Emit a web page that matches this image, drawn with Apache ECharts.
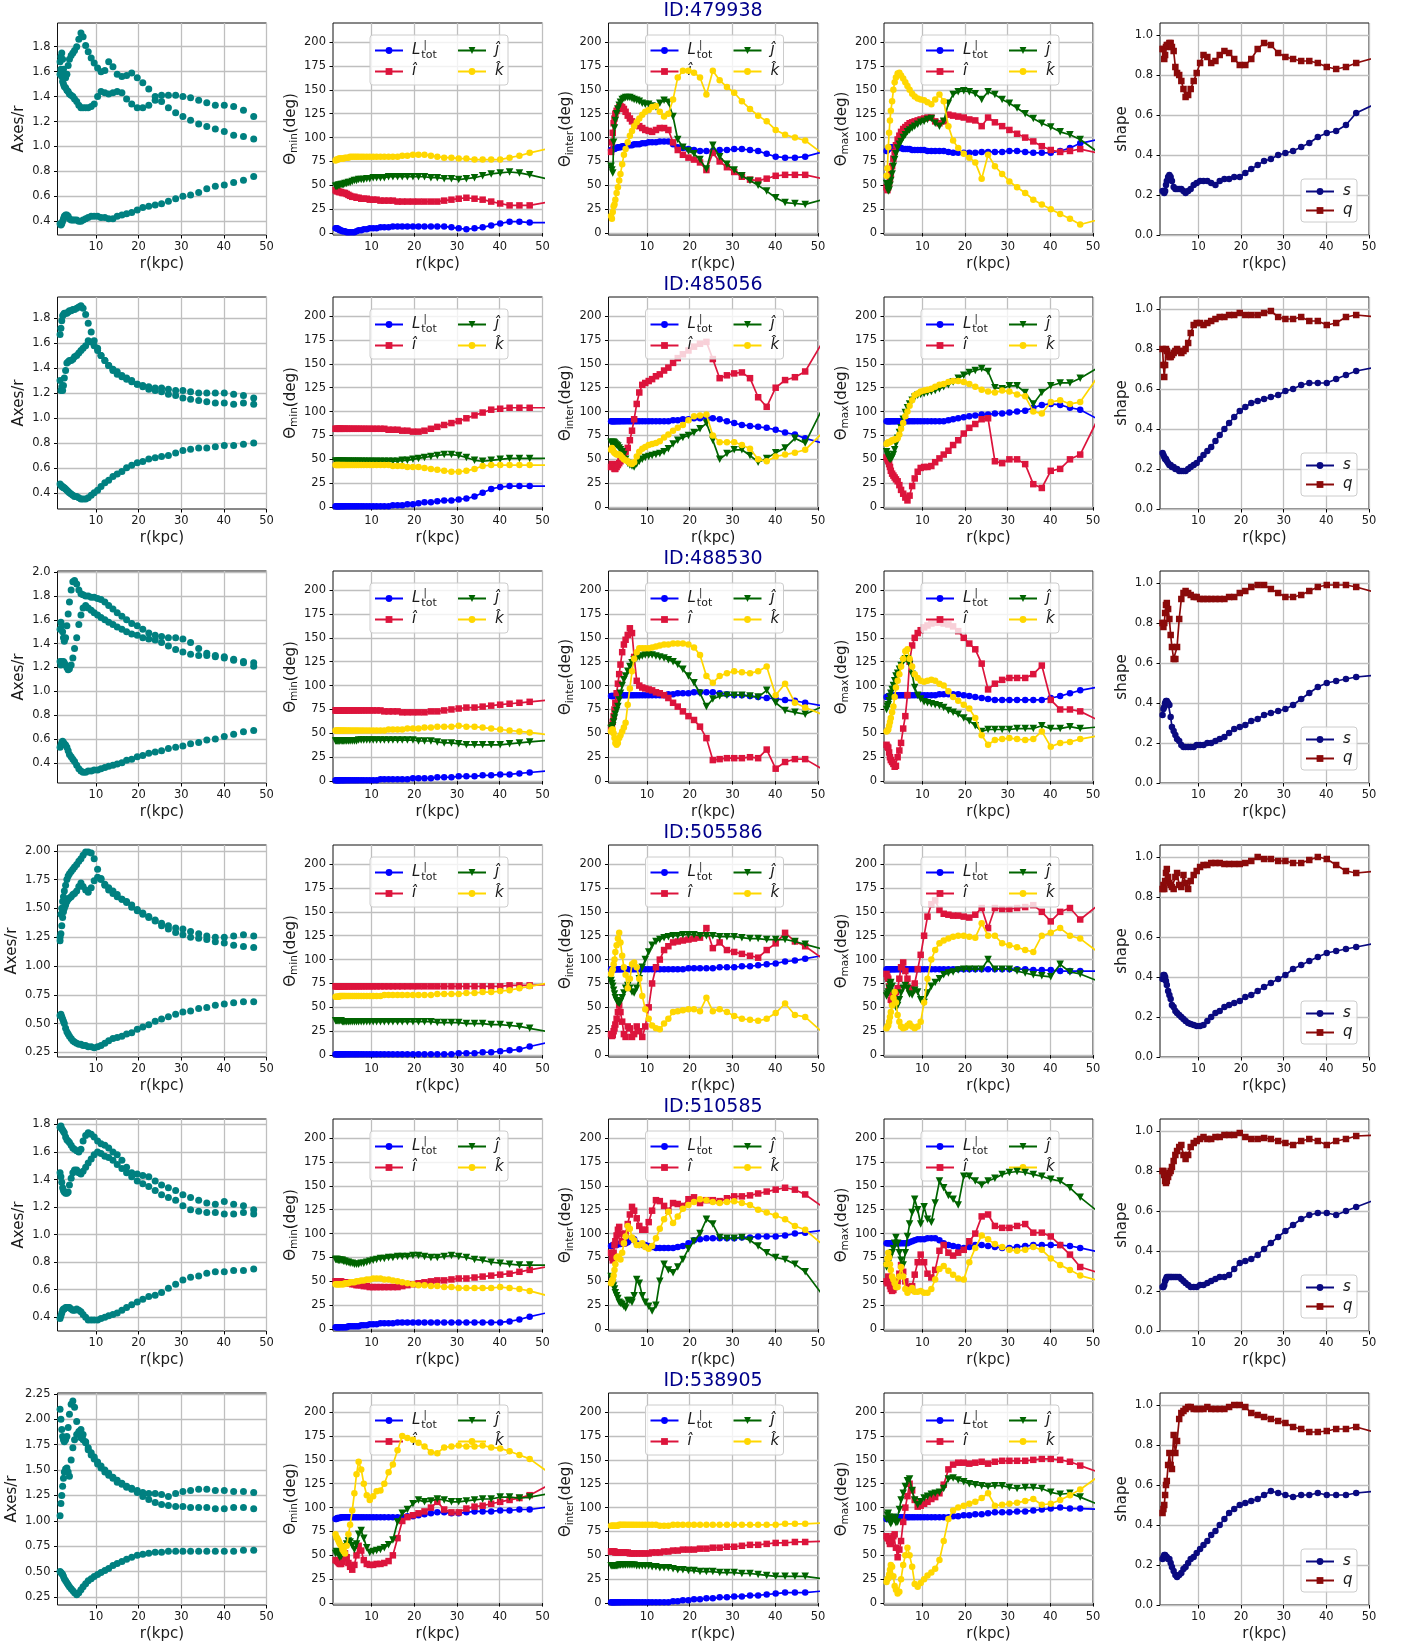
<!DOCTYPE html>
<html><head><meta charset="utf-8">
<script src="https://cdn.jsdelivr.net/npm/echarts@6.0.0/dist/echarts.min.js"></script>
<style>html,body{margin:0;padding:0;background:#fff}#c{width:1407px;height:1646px}</style>
</head><body><div id="c"></div>
<script>
// ---------------- DATA ----------------
const r = [1.6,1.8,2.0,2.2,2.4,2.6,2.9,3.2,3.5,3.8, 4.2,4.6,5.0,5.5,6.0,6.5,7.0,7.6,8.2,8.9, 9.6,10.4,11.2,12.1,13.0,14.0,15.0,16.1,17.2,18.4, 19.7,21.0,22.4,23.9,25.4,27.0,28.7,30.4,32.2,34.1, 36.0,38.0,40.1,42.3,44.6,47.0,52.0];
const ids = ['479938','485056','488530','505586','510585','538905'];
const rTicks = [10,20,30,40,50];
const thetaTicks = [0,25,50,75,100,125,150,175,200];
const shapeTicks = [0.0,0.2,0.4,0.6,0.8,1.0];
const axesTicks = [
  [0.4,0.6,0.8,1.0,1.2,1.4,1.6,1.8],
  [0.4,0.6,0.8,1.0,1.2,1.4,1.6,1.8],
  [0.4,0.6,0.8,1.0,1.2,1.4,1.6,1.8,2.0],
  [0.25,0.5,0.75,1.0,1.25,1.5,1.75,2.0],
  [0.4,0.6,0.8,1.0,1.2,1.4,1.6,1.8],
  [0.25,0.5,0.75,1.0,1.25,1.5,1.75,2.0,2.25]
];
const axesDecimals = [1,1,1,2,1,2];
const axesMin = [0.29,0.27,0.23,0.21,0.30,0.17];
const axesMax = [1.99,1.97,2.01,2.05,1.84,2.26];

// Row 1 : 479938
const ax1A = [1.68,1.72,1.75,1.70,1.62,1.58,1.55,1.58,1.65,1.70, 1.73,1.75,1.77,1.80,1.86,1.91,1.88,1.81,1.76,1.71, 1.67,1.63,1.60,1.61,1.68,1.64,1.58,1.56,1.57,1.59, 1.55,1.51,1.46,1.40,1.36,1.31,1.27,1.24,1.21,1.18, 1.16,1.14,1.12,1.09,1.08,1.06,null];
const ax1B = [1.58,1.62,1.56,1.52,1.50,1.48,1.47,1.45,1.44,1.42, 1.41,1.40,1.38,1.36,1.33,1.31,1.31,1.31,1.31,1.32, 1.34,1.40,1.44,1.43,1.42,1.43,1.44,1.43,1.38,1.34, 1.31,1.31,1.33,1.37,1.41,1.41,1.41,1.40,1.39,1.37, 1.35,1.33,1.33,1.32,1.29,1.24,null];
const ax1C = [0.38,0.37,0.38,0.40,0.42,0.44,0.45,0.45,0.44,0.42, 0.41,0.41,0.41,0.41,0.40,0.40,0.41,0.42,0.43,0.44, 0.44,0.44,0.43,0.43,0.42,0.42,0.44,0.45,0.46,0.47, 0.49,0.51,0.52,0.53,0.54,0.56,0.58,0.60,0.61,0.63, 0.66,0.68,0.69,0.71,0.73,0.76,null];
const min1L = [5,5,5,4,4,3,3,2,2,2, 1,1,1,1,1,2,3,3,4,4, 5,5,5,6,6,6,7,7,7,7, 7,7,7,7,7,7,6,5,4,5, 6,8,10,12,12,11,11];
const min1I = [45,44,44,44,43,43,43,42,42,42, 41,40,39,38,38,37,37,36,36,36, 35,35,35,34,34,34,34,33,33,33, 33,33,33,33,33,34,35,36,37,36, 35,33,31,29,29,29,33];
const min1J = [49,49,49,50,50,50,51,51,51,52, 52,53,53,54,55,55,56,56,56,57, 57,58,58,58,58,59,59,59,59,59, 59,59,59,58,58,57,57,56,57,58, 60,62,63,64,63,61,56];
const min1K = [76,77,77,77,78,78,78,78,78,79, 79,79,80,80,80,80,80,80,80,80, 80,80,80,80,80,80,80,80,81,81, 82,82,82,81,80,79,79,78,78,77, 77,77,77,79,81,84,89];
const int1L = [87,87,88,88,88,89,89,90,90,90, 91,91,91,92,92,92,93,93,93,94, 94,95,95,95,96,96,96,93,90,89, 88,87,86,86,86,87,87,88,88,87, 86,83,80,79,79,80,86];
const int1I = [85,95,105,115,120,125,128,130,132,133, 132,130,127,123,120,117,115,113,112,110, 108,107,106,108,110,110,108,95,87,82, 79,77,74,66,84,75,69,64,59,56, 55,57,60,61,61,61,56];
const int1J = [70,66,63,95,110,118,125,130,134,137, 140,141,142,142,142,141,140,139,138,136, 135,135,133,132,136,139,137,122,98,90, 86,83,77,67,92,80,72,66,60,55, 50,44,37,32,31,30,36];
const int1K = [18,15,22,28,30,35,42,48,55,62, 72,82,88,95,102,107,112,116,120,124, 127,129,132,133,127,122,125,140,163,170, 170,168,163,145,170,160,153,147,138,130, 123,117,108,103,100,97,80];
const max1L = [86,87,88,89,89,90,90,90,90,90, 90,89,89,88,88,88,88,87,87,87, 87,87,86,86,86,86,86,85,84,84, 84,84,84,85,85,85,85,86,86,85, 84,84,84,86,89,94,99];
const max1I = [48,45,48,52,57,62,70,78,85,92, 98,102,106,109,111,113,115,116,117,118, 119,120,121,121,117,115,117,124,123,122, 121,119,118,112,121,116,112,108,104,100, 96,91,87,85,86,88,83];
const max1J = [52,48,44,45,50,55,62,70,77,83, 89,93,96,100,103,106,108,110,112,114, 116,117,119,120,115,112,117,136,145,148, 149,148,146,140,148,145,140,136,131,125, 120,115,111,106,103,98,82];
const max1K = [60,68,90,105,118,128,138,150,158,163, 167,168,165,162,158,154,150,146,143,141, 140,139,137,135,140,145,138,112,97,89, 83,79,74,57,82,70,62,54,48,42, 35,30,25,20,15,9,15];
const s1 = [0.22,0.22,0.21,0.22,0.25,0.27,0.29,0.30,0.29,0.27, 0.24,0.23,0.23,0.23,0.23,0.22,0.21,0.22,0.23,0.25, 0.26,0.27,0.27,0.27,0.26,0.25,0.27,0.28,0.28,0.29, 0.29,0.31,0.33,0.35,0.37,0.38,0.40,0.41,0.42,0.44, 0.46,0.49,0.51,0.52,0.55,0.61,0.66];
const q1 = [0.93,0.93,0.88,0.90,0.94,0.95,0.95,0.96,0.96,0.94, 0.92,0.84,0.81,0.80,0.77,0.73,0.69,0.70,0.73,0.77, 0.81,0.86,0.90,0.89,0.86,0.87,0.90,0.92,0.91,0.88, 0.85,0.85,0.88,0.93,0.96,0.95,0.91,0.89,0.88,0.87, 0.87,0.86,0.84,0.83,0.84,0.86,0.89];

// Row 2 : 485056
const ax2A = [1.67,1.72,1.78,1.82,1.83,1.84,1.84,1.84,1.85,1.86, 1.86,1.87,1.87,1.88,1.89,1.90,1.88,1.83,1.76,1.69, 1.62,1.56,1.50,1.46,1.42,1.38,1.35,1.33,1.31,1.29, 1.27,1.26,1.25,1.24,1.24,1.23,1.22,1.22,1.21,1.20, 1.20,1.20,1.20,1.19,1.18,1.16,null];
const ax2B = [1.30,1.22,1.25,1.22,1.26,1.32,1.38,1.44,1.45,1.46, 1.46,1.47,1.49,1.50,1.52,1.54,1.56,1.58,1.62,1.61, 1.58,1.54,1.50,1.46,1.42,1.39,1.37,1.34,1.32,1.30, 1.27,1.25,1.23,1.22,1.21,1.19,1.18,1.16,1.15,1.14, 1.13,1.12,1.12,1.11,1.12,1.11,null];
const ax2C = [0.47,0.46,0.45,0.45,0.44,0.44,0.43,0.42,0.41,0.40, 0.39,0.38,0.37,0.37,0.36,0.35,0.35,0.35,0.36,0.38, 0.40,0.42,0.45,0.48,0.50,0.53,0.55,0.57,0.60,0.62, 0.64,0.65,0.67,0.68,0.69,0.70,0.72,0.74,0.75,0.76, 0.76,0.77,0.78,0.78,0.79,0.80,null];
const min2L = [1,1,1,1,1,1,1,1,1,1, 1,1,1,1,1,1,1,1,1,1, 1,1,1,1,1,1,2,2,2,3, 3,4,5,5,6,7,7,8,9,11, 15,19,21,22,22,22,22];
const min2I = [82,82,82,82,82,82,82,82,82,82, 82,82,82,82,82,82,82,82,82,82, 82,82,82,82,82,81,81,81,80,80, 79,79,80,82,84,86,88,90,93,96, 99,102,103,104,104,104,104];
const min2J = [48,48,48,48,48,48,48,48,48,48, 48,48,48,48,48,48,48,48,48,48, 48,48,48,48,48,48,48,48,49,49, 50,51,52,53,54,55,55,54,52,49, 48,49,50,51,51,51,51];
const min2K = [44,44,44,44,44,44,44,44,44,44, 44,44,44,44,44,44,44,44,44,44, 44,44,44,44,44,44,43,43,43,42, 42,42,41,40,39,38,37,37,38,40, 43,44,44,44,44,44,44];
const int2L = [90,90,90,90,90,90,90,90,90,90, 90,90,90,90,90,90,90,90,90,90, 90,90,90,90,90,90,90,91,91,92, 92,93,93,94,93,92,90,88,86,85, 84,83,81,78,76,72,66];
const int2I = [42,45,45,42,40,40,42,44,46,48, 51,55,58,62,70,80,92,108,120,128, 130,132,134,137,139,143,146,151,156,160, 164,168,171,173,155,135,138,140,141,135, 115,105,125,133,136,142,180];
const int2J = [68,66,68,68,67,66,65,64,62,60, 58,55,50,46,44,43,42,45,48,50, 52,53,54,55,56,58,61,66,70,73, 75,78,82,88,70,50,56,60,60,54, 47,51,57,62,72,67,112];
const int2K = [60,62,60,58,57,56,55,55,55,54, 52,50,49,48,46,45,47,53,58,61, 63,65,66,67,69,73,76,80,83,86, 91,95,96,97,75,68,68,68,65,61, 50,48,53,55,57,60,82];
const max2L = [90,90,90,90,90,90,90,90,90,90, 90,90,90,90,90,90,90,90,90,90, 90,90,90,90,90,90,90,91,92,93, 94,95,96,97,97,98,98,99,100,101, 104,107,108,107,104,102,90];
const max2I = [52,50,48,45,42,38,35,33,31,29, 27,23,18,14,10,7,12,22,30,37, 41,42,42,43,47,51,55,59,65,70, 77,83,87,92,93,48,46,50,50,45, 24,20,38,40,50,55,100];
const max2J = [58,55,53,51,50,50,52,55,60,66, 72,78,83,92,99,104,108,112,115,117, 118,119,120,121,122,124,126,128,131,135, 138,141,143,145,142,125,124,127,127,120, 108,120,127,130,130,135,148];
const max2K = [66,67,68,68,68,69,70,70,71,71, 72,76,82,88,95,100,106,112,117,119, 121,122,123,124,126,128,129,131,132,132, 131,129,126,123,121,120,122,121,118,116, 100,98,110,112,108,110,142];
const s2 = [0.28,0.27,0.26,0.25,0.25,0.24,0.23,0.22,0.22,0.21, 0.21,0.20,0.20,0.19,0.19,0.19,0.19,0.20,0.21,0.22, 0.23,0.25,0.27,0.29,0.31,0.34,0.37,0.40,0.43,0.46, 0.49,0.51,0.53,0.54,0.55,0.56,0.57,0.59,0.60,0.62, 0.63,0.63,0.63,0.65,0.67,0.69,0.71];
const q2 = [0.80,0.72,0.66,0.72,0.80,0.79,0.77,0.76,0.76,0.77, 0.78,0.79,0.80,0.79,0.78,0.79,0.80,0.83,0.88,0.92, 0.93,0.93,0.92,0.93,0.94,0.95,0.96,0.96,0.97,0.97, 0.98,0.97,0.97,0.97,0.98,0.99,0.96,0.95,0.95,0.96, 0.94,0.94,0.92,0.93,0.96,0.97,0.96];

// Row 3 : 488530
const ax3A = [1.52,1.58,1.55,1.50,1.45,1.42,1.45,1.55,1.65,1.75, 1.85,1.92,1.93,1.90,1.85,1.82,1.81,1.80,1.80,1.79, 1.79,1.78,1.77,1.75,1.72,1.69,1.66,1.63,1.60,1.57, 1.55,1.52,1.49,1.47,1.46,1.45,1.45,1.44,1.41,1.36, 1.32,1.30,1.29,1.27,1.25,1.24,null];
const ax3B = [1.25,1.22,1.25,1.24,1.25,1.24,1.22,1.20,1.18,1.19, 1.22,1.28,1.36,1.45,1.56,1.64,1.70,1.72,1.70,1.68, 1.66,1.64,1.62,1.60,1.58,1.56,1.54,1.52,1.50,1.48, 1.47,1.45,1.44,1.43,1.41,1.38,1.35,1.33,1.31,1.30, 1.30,1.29,1.28,1.26,1.24,1.21,null];
const ax3C = [0.53,0.55,0.57,0.58,0.57,0.56,0.55,0.53,0.50,0.47, 0.45,0.43,0.41,0.38,0.35,0.33,0.32,0.32,0.33,0.33, 0.34,0.34,0.35,0.36,0.37,0.38,0.39,0.40,0.42,0.43, 0.45,0.46,0.48,0.49,0.50,0.52,0.53,0.54,0.56,0.57, 0.59,0.60,0.62,0.64,0.66,0.67,null];
const min3L = [1,1,1,1,1,1,1,1,1,1, 1,1,1,1,1,1,1,1,1,1, 1,1,1,2,2,2,2,2,2,2, 3,3,3,3,4,4,4,5,5,5, 6,6,7,7,8,9,11];
const min3I = [74,74,74,74,74,74,74,74,74,74, 74,74,74,74,74,74,74,74,74,74, 74,74,74,74,73,73,73,73,72,72, 72,72,72,73,73,74,75,76,77,77, 78,79,80,81,82,83,85];
const min3J = [42,42,42,42,42,42,42,42,42,42, 42,42,42,42,42,42,43,43,43,43, 43,43,43,43,43,43,43,43,43,43, 43,42,42,42,41,40,40,39,38,38, 38,38,38,39,40,41,43];
const min3K = [53,53,53,53,53,53,53,53,53,53, 53,53,53,53,53,53,53,53,53,53, 53,53,53,53,53,54,54,54,54,55, 55,55,56,56,57,57,57,58,57,57, 56,55,54,53,52,51,48];
const int3L = [89,89,89,89,89,89,89,89,90,90, 90,90,90,90,90,90,90,90,90,90, 90,90,90,90,90,90,91,91,92,92, 92,93,93,93,93,92,91,90,90,89, 88,87,86,85,84,82,78];
const int3I = [55,58,62,68,75,82,92,102,112,122, 135,143,148,153,160,155,130,105,100,98, 97,96,95,93,92,90,87,82,78,73, 68,64,57,45,22,23,24,24,24,25, 24,33,13,20,23,23,10];
const int3J = [55,56,58,62,66,70,74,78,85,92, 100,106,110,115,120,124,127,129,130,131, 132,132,132,131,130,129,127,125,122,117, 110,103,92,78,86,89,90,90,90,89, 88,95,82,74,72,70,80];
const int3K = [52,54,54,50,45,40,38,40,45,48, 52,56,61,80,97,115,128,135,139,139, 139,139,140,141,142,143,143,144,144,144, 143,140,132,110,103,110,113,115,114,113, 115,120,90,102,82,77,68];
const max3L = [88,88,89,89,89,89,89,89,90,90, 90,90,90,90,90,90,90,90,90,90, 90,90,90,90,90,91,91,91,91,91, 90,89,88,87,86,85,85,85,85,85, 85,85,87,89,92,95,99];
const max3I = [38,36,35,30,25,22,20,18,15,16, 25,32,40,55,68,90,125,142,150,155, 158,161,163,165,166,166,165,164,162,157, 150,144,138,123,96,102,106,108,108,108, 112,121,85,75,75,73,62];
const max3J = [75,78,80,84,88,92,96,100,105,110, 113,117,121,125,128,128,122,112,98,90, 86,83,82,81,80,79,77,74,72,70, 66,63,58,52,54,54,54,54,55,55, 55,58,55,55,57,55,57];
const max3K = [52,53,54,58,62,66,72,78,88,98, 105,112,120,128,136,138,128,120,112,108, 105,104,105,106,105,102,100,94,88,84, 80,76,66,48,38,43,44,45,44,43, 44,52,36,40,41,44,48];
const s3 = [0.34,0.37,0.38,0.40,0.41,0.41,0.40,0.39,0.33,0.28, 0.26,0.24,0.22,0.21,0.19,0.18,0.18,0.18,0.18,0.18, 0.19,0.19,0.19,0.20,0.20,0.21,0.22,0.23,0.25,0.27, 0.28,0.29,0.31,0.32,0.34,0.35,0.36,0.37,0.39,0.42, 0.45,0.48,0.50,0.51,0.52,0.53,0.54];
const q3 = [0.80,0.78,0.80,0.85,0.89,0.90,0.87,0.82,0.74,0.68, 0.62,0.62,0.68,0.82,0.92,0.95,0.96,0.95,0.94,0.93, 0.93,0.92,0.92,0.92,0.92,0.92,0.92,0.92,0.93,0.93, 0.95,0.96,0.98,0.99,0.99,0.97,0.95,0.93,0.93,0.94, 0.96,0.98,0.99,0.99,0.99,0.98,0.95];

// Row 4 : 505586
const ax4A = [1.25,1.45,1.50,1.56,1.60,1.65,1.70,1.75,1.78,1.80, 1.82,1.84,1.86,1.88,1.91,1.93,1.96,1.99,1.99,1.98, 1.93,1.84,1.76,1.70,1.66,1.63,1.60,1.58,1.55,1.51, 1.48,1.45,1.42,1.40,1.37,1.35,1.33,1.32,1.30,1.28, 1.26,1.25,1.25,1.26,1.27,1.26,null];
const ax4B = [1.22,1.28,1.35,1.42,1.47,1.50,1.53,1.56,1.58,1.59, 1.60,1.62,1.63,1.65,1.69,1.72,1.69,1.66,1.64,1.68, 1.74,1.77,1.75,1.71,1.68,1.65,1.62,1.58,1.56,1.53, 1.49,1.46,1.43,1.39,1.35,1.32,1.29,1.27,1.25,1.24, 1.23,1.21,1.20,1.18,1.17,1.16,null];
const ax4C = [0.57,0.58,0.56,0.54,0.52,0.50,0.46,0.43,0.41,0.39, 0.37,0.35,0.34,0.33,0.32,0.32,0.31,0.31,0.30,0.30, 0.29,0.30,0.31,0.33,0.35,0.37,0.38,0.39,0.41,0.42, 0.45,0.47,0.49,0.52,0.54,0.56,0.58,0.60,0.61,0.63, 0.64,0.66,0.67,0.68,0.69,0.69,null];
const min4L = [1,1,1,1,1,1,1,1,1,1, 1,1,1,1,1,1,1,1,1,1, 1,1,1,1,1,1,1,1,1,1, 1,1,1,1,1,1,1,2,2,2, 3,3,4,5,6,9,14];
const min4I = [72,72,72,72,72,72,72,72,72,72, 72,72,72,72,72,72,72,72,72,72, 72,72,72,72,72,72,72,72,72,72, 72,72,72,72,72,72,72,72,72,72, 72,72,72,73,73,73,74];
const min4J = [36,36,36,36,36,36,36,35,35,35, 35,35,35,35,35,35,35,35,35,35, 35,35,35,35,35,35,35,35,35,35, 35,35,35,35,34,34,34,34,33,33, 33,32,32,31,30,28,24];
const min4K = [61,61,61,61,61,62,62,62,62,62, 62,62,62,62,62,62,62,62,62,62, 62,62,62,62,63,63,63,63,63,63, 63,63,63,63,64,64,64,64,65,65, 66,66,67,68,70,72,76];
const int4L = [90,90,90,90,90,90,90,90,90,90, 90,90,90,90,90,90,90,90,90,90, 90,90,90,90,90,90,90,90,90,90, 91,91,91,91,91,92,92,92,93,93, 94,95,96,98,99,101,105];
const int4I = [22,20,21,25,28,32,38,45,52,45, 35,22,19,30,28,19,22,30,25,19, 30,50,75,92,100,110,114,118,119,120, 121,122,123,133,112,118,110,108,106,104, 102,110,117,128,119,114,98];
const int4J = [78,75,72,68,64,60,57,55,54,56, 60,65,70,73,70,66,65,70,80,92, 100,108,115,119,121,123,124,125,125,126, 126,126,125,125,125,124,124,124,123,122, 122,121,121,121,119,116,110];
const int4K = [85,88,90,95,100,108,115,122,128,118, 104,92,84,70,80,95,97,92,80,62, 48,38,31,28,27,33,38,45,46,47, 48,48,46,60,46,48,45,41,38,37, 36,38,44,54,42,40,20];
const max4L = [90,90,90,90,90,90,90,90,90,90, 90,90,90,90,90,90,90,90,90,90, 90,90,90,90,90,90,90,90,90,90, 90,90,90,90,90,90,90,90,90,90, 89,89,89,88,88,88,88];
const max4I = [85,82,80,72,65,58,55,56,60,66, 70,80,92,97,88,80,70,68,75,90, 105,125,145,158,162,152,148,147,146,146, 145,144,147,154,133,154,153,153,154,155, 157,150,140,150,154,142,160];
const max4J = [62,64,66,70,74,76,72,65,55,50, 52,58,65,70,73,70,64,63,68,66, 58,55,65,72,76,80,84,86,87,89, 90,90,90,90,100,90,90,90,88,86, 84,83,82,95,87,85,76];
const max4K = [28,30,31,35,40,45,52,60,66,55, 42,35,30,28,29,31,33,30,28,30, 35,55,80,100,110,117,120,122,124,125, 125,124,123,138,125,125,117,115,113,110, 108,125,128,133,125,122,105];
const s4 = [0.39,0.41,0.41,0.40,0.38,0.36,0.33,0.31,0.29,0.26, 0.25,0.23,0.22,0.21,0.20,0.19,0.18,0.17,0.165,0.16, 0.155,0.155,0.16,0.18,0.20,0.22,0.23,0.25,0.26,0.27, 0.28,0.30,0.31,0.33,0.35,0.37,0.39,0.41,0.44,0.46, 0.48,0.50,0.52,0.53,0.54,0.55,0.57];
const q4 = [0.84,0.86,0.84,0.88,0.92,0.94,0.90,0.87,0.86,0.85, 0.84,0.90,0.92,0.86,0.85,0.91,0.87,0.84,0.88,0.91, 0.93,0.95,0.96,0.96,0.97,0.97,0.97,0.965,0.965,0.965, 0.965,0.97,0.98,1.00,0.99,0.99,0.98,0.98,0.97,0.97, 0.985,1.00,0.99,0.96,0.93,0.92,0.93];

// Row 5 : 510585
const ax5A = [1.78,1.79,1.77,1.76,1.75,1.74,1.71,1.69,1.68,1.67, 1.65,1.63,1.62,1.61,1.60,1.62,1.68,1.72,1.74,1.73, 1.71,1.68,1.66,1.65,1.63,1.60,1.58,1.54,1.49,1.45, 1.44,1.43,1.42,1.39,1.36,1.34,1.32,1.29,1.27,1.25, 1.23,1.22,1.24,1.22,1.21,1.18,null];
const ax5B = [1.45,1.42,1.38,1.34,1.32,1.31,1.30,1.30,1.31,1.36, 1.41,1.45,1.47,1.47,1.45,1.44,1.46,1.49,1.52,1.55, 1.58,1.60,1.59,1.57,1.56,1.54,1.51,1.48,1.45,1.42, 1.39,1.37,1.35,1.32,1.29,1.27,1.25,1.21,1.18,1.17, 1.16,1.16,1.15,1.15,1.16,1.15,null];
const ax5C = [0.39,0.41,0.43,0.45,0.46,0.46,0.47,0.47,0.47,0.47, 0.46,0.45,0.45,0.46,0.45,0.44,0.42,0.40,0.38,0.38, 0.38,0.38,0.39,0.40,0.41,0.42,0.43,0.45,0.47,0.49, 0.51,0.53,0.55,0.56,0.58,0.61,0.64,0.67,0.69,0.70, 0.72,0.73,0.73,0.74,0.74,0.75,null];
const min5L = [2,2,2,2,2,2,2,2,2,2, 2,3,3,3,3,3,3,4,4,4, 5,5,5,6,6,6,6,7,7,7, 7,7,7,7,7,7,7,7,7,7, 7,7,7,8,10,13,18];
const min5I = [50,50,50,50,50,50,50,49,49,49, 49,48,48,47,47,46,46,46,45,45, 44,44,44,44,44,44,44,44,45,46, 47,48,49,50,51,51,52,53,53,54, 55,56,57,58,60,62,66];
const min5J = [73,73,73,72,72,72,72,72,71,71, 70,70,69,69,68,68,68,69,69,70, 71,72,73,74,74,75,75,76,76,76, 77,77,76,75,75,76,77,76,75,73, 72,70,69,68,67,67,67];
const min5K = [47,47,47,47,47,47,47,47,47,48, 48,48,49,49,49,50,50,51,51,52, 52,53,53,53,52,52,51,50,49,48, 47,46,46,45,45,44,44,43,43,43, 43,43,44,43,42,40,34];
const int5L = [87,87,88,88,88,88,88,89,89,89, 90,90,90,91,93,95,94,90,88,88, 88,87,86,85,85,85,85,85,86,87, 90,93,94,95,95,95,95,95,96,96, 97,97,97,98,100,101,104];
const int5I = [80,75,72,80,88,92,98,104,107,100, 92,90,100,110,120,128,124,116,108,104, 104,112,124,135,134,129,124,132,131,129, 136,138,132,135,135,134,137,139,139,140, 142,144,146,148,146,141,125];
const int5J = [55,52,48,45,42,38,35,32,28,27, 26,24,22,30,30,28,35,52,48,35, 28,24,19,25,50,68,62,59,65,73, 84,92,100,115,110,96,95,95,96,93, 87,80,75,73,68,60,30];
const int5K = [48,50,52,56,62,68,75,76,74,73, 80,90,97,108,105,96,93,88,88,90, 86,84,87,95,105,115,123,111,118,126, 130,133,136,135,133,132,133,134,132,130, 125,122,119,115,108,104,85];
const max5L = [90,90,90,90,90,90,90,90,90,90, 90,90,90,90,90,90,91,92,93,94, 94,94,95,95,95,93,90,88,87,86, 85,86,88,88,87,86,85,85,86,87, 88,88,88,88,87,85,80];
const max5I = [50,48,55,50,45,42,40,41,44,47, 50,58,67,60,50,44,41,45,57,70, 78,70,58,54,62,82,88,80,77,80, 83,92,100,118,120,108,106,106,108,110, 101,101,97,88,78,65,58];
const max5J = [65,67,69,72,75,78,80,84,90,96, 90,80,72,67,80,97,110,122,136,125, 110,128,115,112,132,155,148,140,136,130, 160,160,155,151,155,158,162,164,165,164, 162,160,157,155,148,138,120];
const max5K = [68,74,80,75,68,62,55,52,48,44, 44,55,65,55,42,38,41,43,39,39, 40,38,38,42,52,63,66,61,57,53, 52,70,85,98,94,89,86,83,82,83, 86,83,74,67,62,56,50];
const s5 = [0.22,0.22,0.23,0.25,0.26,0.27,0.27,0.27,0.27,0.27, 0.27,0.27,0.27,0.27,0.26,0.25,0.24,0.23,0.22,0.22, 0.22,0.23,0.23,0.24,0.25,0.26,0.27,0.27,0.28,0.31, 0.34,0.35,0.36,0.38,0.41,0.44,0.47,0.50,0.53,0.56, 0.58,0.59,0.59,0.58,0.60,0.62,0.66];
const q5 = [0.80,0.80,0.78,0.75,0.74,0.75,0.77,0.79,0.80,0.82, 0.85,0.88,0.90,0.92,0.93,0.88,0.86,0.88,0.92,0.94, 0.95,0.96,0.97,0.96,0.96,0.97,0.97,0.98,0.98,0.98, 0.99,0.97,0.96,0.96,0.965,0.96,0.95,0.94,0.93,0.95, 0.96,0.95,0.93,0.95,0.96,0.975,0.98];

// Row 6 : 538905
const ax6A = [2.10,2.00,1.90,1.83,1.80,1.78,1.80,1.83,1.92,2.05, 2.15,2.18,2.12,1.98,1.86,1.82,1.80,1.77,1.72,1.67, 1.63,1.58,1.54,1.50,1.47,1.43,1.40,1.37,1.34,1.32, 1.30,1.28,1.27,1.27,1.26,1.24,1.27,1.29,1.30,1.31, 1.31,1.30,1.30,1.29,1.29,1.28,null];
const ax6B = [1.05,1.17,1.25,1.34,1.42,1.48,1.51,1.52,1.48,1.44, 1.60,1.72,1.80,1.85,1.88,1.90,1.85,1.78,1.70,1.65, 1.61,1.56,1.52,1.48,1.45,1.42,1.38,1.36,1.33,1.31, 1.28,1.24,1.21,1.18,1.16,1.15,1.14,1.14,1.13,1.13, 1.13,1.12,1.12,1.13,1.13,1.12,null];
const ax6C = [0.50,0.49,0.48,0.47,0.45,0.43,0.41,0.39,0.37,0.35, 0.33,0.31,0.29,0.27,0.29,0.32,0.35,0.38,0.41,0.43, 0.45,0.47,0.49,0.51,0.53,0.56,0.58,0.60,0.62,0.64, 0.66,0.67,0.68,0.69,0.69,0.70,0.70,0.70,0.70,0.70, 0.70,0.70,0.70,0.70,0.71,0.71,null];
const min6L = [88,88,89,89,89,89,90,90,90,90, 90,90,90,90,90,90,90,90,90,90, 90,90,90,90,90,90,90,90,90,91, 91,92,93,94,95,95,94,94,95,96, 96,96,97,97,98,98,101];
const min6I = [45,45,44,43,42,41,41,43,47,52, 48,42,38,35,40,50,60,55,45,41, 40,40,41,41,42,44,50,68,86,90, 92,94,96,100,106,98,95,95,99,101, 102,104,106,108,110,113,125];
const min6J = [52,54,53,52,50,48,49,52,56,59, 62,65,64,60,56,62,72,76,68,58, 53,54,55,56,58,61,66,85,94,98, 104,108,106,107,109,108,106,106,107,108, 109,109,111,111,110,111,115];
const min6K = [72,69,68,66,64,62,60,56,54,52, 60,72,82,97,115,135,148,140,125,113, 108,112,117,118,125,137,145,160,175,173, 171,168,164,158,157,163,164,165,164,164, 165,163,162,159,155,151,135];
const int6L = [1,1,1,1,1,1,1,1,1,1, 1,1,1,1,1,1,1,1,1,1, 1,1,1,1,1,1,1,2,2,3, 3,4,4,5,5,6,6,7,7,8, 8,9,10,11,11,11,13];
const int6I = [54,54,54,54,54,53,53,53,53,53, 53,53,53,53,52,52,52,52,52,52, 52,52,53,53,53,54,54,55,55,56, 56,56,57,57,58,58,59,59,60,61, 61,62,63,63,64,64,65];
const int6J = [39,39,39,39,39,39,39,39,40,40, 40,40,40,40,40,40,40,39,39,39, 39,39,38,38,37,37,37,36,35,35, 34,34,33,33,33,32,32,32,31,31, 30,29,28,28,28,28,25];
const int6K = [81,81,81,81,81,81,81,81,82,82, 82,82,82,82,82,82,82,82,82,82, 82,82,82,82,81,81,81,82,82,82, 82,82,82,82,82,82,82,82,82,82, 82,82,82,83,83,83,84];
const max6L = [88,88,88,89,89,89,89,89,89,90, 90,90,90,90,90,90,90,90,90,90, 90,90,90,90,90,90,90,90,91,91, 92,92,93,93,94,95,95,95,96,96, 97,98,99,100,99,99,98];
const max6I = [70,68,68,65,62,62,66,70,72,58, 48,56,65,85,100,112,125,118,108,101, 102,104,106,109,111,115,124,140,145,147, 147,146,147,148,146,148,149,149,149,149, 150,151,151,150,148,144,136];
const max6J = [88,92,94,90,85,83,86,90,88,84, 85,98,108,115,122,128,130,118,108,103, 106,110,112,114,115,116,120,130,131,129, 127,125,124,123,122,123,123,121,120,121, 121,120,116,114,115,111,102];
const max6K = [22,25,26,30,35,40,38,28,18,14, 10,12,25,40,50,58,50,38,20,17, 21,25,29,32,36,45,65,88,97,100, 102,104,106,110,115,102,103,104,105,107, 109,103,104,108,113,119,135];
const s6 = [0.23,0.24,0.25,0.25,0.24,0.24,0.23,0.23,0.21,0.19, 0.17,0.15,0.14,0.15,0.16,0.18,0.19,0.21,0.23,0.24, 0.26,0.28,0.30,0.32,0.35,0.37,0.40,0.43,0.46,0.48, 0.50,0.51,0.52,0.53,0.55,0.57,0.56,0.55,0.54,0.55, 0.55,0.56,0.55,0.55,0.55,0.56,0.57];
const q6 = [0.46,0.48,0.50,0.55,0.60,0.62,0.70,0.76,0.70,0.68, 0.85,0.76,0.82,0.93,0.96,0.97,0.98,0.99,0.99,0.98, 0.98,0.98,0.98,0.99,0.98,0.98,0.98,0.98,0.99,1.00, 1.00,0.99,0.96,0.95,0.94,0.93,0.92,0.91,0.89,0.88, 0.865,0.865,0.87,0.88,0.88,0.89,0.86];

// ---------------- BUILD ----------------
const rows = [
  {ax:[ax1A,ax1B,ax1C], th:[[min1L,min1I,min1J,min1K],[int1L,int1I,int1J,int1K],[max1L,max1I,max1J,max1K]], sh:[s1,q1]},
  {ax:[ax2A,ax2B,ax2C], th:[[min2L,min2I,min2J,min2K],[int2L,int2I,int2J,int2K],[max2L,max2I,max2J,max2K]], sh:[s2,q2]},
  {ax:[ax3A,ax3B,ax3C], th:[[min3L,min3I,min3J,min3K],[int3L,int3I,int3J,int3K],[max3L,max3I,max3J,max3K]], sh:[s3,q3]},
  {ax:[ax4A,ax4B,ax4C], th:[[min4L,min4I,min4J,min4K],[int4L,int4I,int4J,int4K],[max4L,max4I,max4J,max4K]], sh:[s4,q4]},
  {ax:[ax5A,ax5B,ax5C], th:[[min5L,min5I,min5J,min5K],[int5L,int5I,int5J,int5K],[max5L,max5I,max5J,max5K]], sh:[s5,q5]},
  {ax:[ax6A,ax6B,ax6C], th:[[min6L,min6I,min6J,min6K],[int6L,int6I,int6J,int6K],[max6L,max6I,max6J,max6K]], sh:[s6,q6]}
];

const COLS = [
  {left:57.5, width:209},
  {left:333, width:209.5},
  {left:608.5, width:209.5},
  {left:884, width:209},
  {left:1160, width:209}
];
const ROW_H = 274, TOP0 = 23, PLOT_H = 212;
const TXT = '#1a1a1a';
const FONT = 'DejaVu Sans';
const GRIDC = '#bfbfbf';

const TH = [
  {name:'Ltot', color:'#0000ff', symbol:'circle', size:6.5, rot:0},
  {name:'i', color:'#dc143c', symbol:'rect', size:6.5, rot:0},
  {name:'j', color:'#006400', symbol:'triangle', size:7.5, rot:180},
  {name:'k', color:'#ffd700', symbol:'circle', size:6.5, rot:0}
];
const SH = [
  {name:'s', color:'#0a0a80', symbol:'circle', size:6.5, rot:0},
  {name:'q', color:'#8b0a0a', symbol:'rect', size:6.5, rot:0}
];
const thetaNames = ['min','inter','max'];

function pairs(ys){
  const out=[];
  for(let i=0;i<r.length;i++){ if(ys[i]!=null) out.push([r[i], ys[i]]); }
  return out;
}

const legendRich = {
  it:{fontStyle:'italic', fontSize:15, lineHeight:21, fontFamily:FONT, color:TXT},
  it2:{fontStyle:'italic', fontSize:15, lineHeight:19, fontFamily:FONT, color:TXT},
  sup:{fontSize:10, lineHeight:10, width:1, verticalAlign:'top', fontFamily:FONT, color:TXT},
  sub:{fontSize:11, lineHeight:11, verticalAlign:'bottom', fontFamily:FONT, color:TXT}
};
function legendFmt(n){
  if(n==='Ltot') return '{it|L}{sup| |}{sub|tot}';
  if(n==='i') return '{it|\u00EE}';
  if(n==='j') return '{it|\u0135}';
  if(n==='k') return '{it|k\u0302}';
  return '{it2|'+n+'}';
}

const grid=[], xAxis=[], yAxis=[], series=[], legend=[], graphic=[];

function xa(gi){
  return {type:'value', gridIndex:gi, min:1, max:50,
    name:'r(kpc)', nameLocation:'middle', nameGap:20,
    nameTextStyle:{fontSize:15, color:TXT, lineHeight:18, fontFamily:FONT},
    axisLine:{show:false},
    axisTick:{show:true, inside:false, length:3.5, lineStyle:{color:'#000', width:1}, customValues:rTicks},
    axisLabel:{fontSize:11.5, color:TXT, margin:6, fontFamily:FONT, customValues:rTicks},
    splitLine:{show:true, lineStyle:{color:GRIDC, width:1.3}}};
}
function ya(gi, min, max, ticks, fmt, name, gap, rich){
  const o = {type:'value', gridIndex:gi, min:min, max:max,
    name:name, nameLocation:'middle', nameGap:gap, nameRotate:90,
    nameTextStyle:{fontSize:15, color:TXT, fontFamily:FONT, lineHeight:18},
    axisLine:{show:false},
    axisTick:{show:true, inside:false, length:3.5, lineStyle:{color:'#000', width:1}, customValues:ticks},
    axisLabel:{fontSize:11.5, color:TXT, margin:7, fontFamily:FONT, customValues:ticks, formatter:fmt},
    splitLine:{show:true, lineStyle:{color:GRIDC, width:1.3}}};
  if(rich) o.nameTextStyle.rich = rich;
  return o;
}
const thetaRich = {
  t:{fontSize:15, lineHeight:19, fontFamily:FONT, color:TXT},
  s:{fontSize:10.5, lineHeight:11, verticalAlign:'bottom', fontFamily:FONT, color:TXT}
};

rows.forEach((row, k) => {
  const top = TOP0 + k*ROW_H;
  graphic.push({type:'text', x:713, y:11.5 + k*ROW_H, z:10,
    style:{text:'ID:'+ids[k], fontSize:19, fontFamily:FONT, fill:'#00008b', align:'center', verticalAlign:'middle'}});
  COLS.forEach((c, j) => {
    const gi = k*5 + j;
    grid.push({left:c.left, top:top, width:c.width, height:PLOT_H, show:true, borderColor:'#111', borderWidth:1, backgroundColor:'rgba(0,0,0,0)'});
    xAxis.push(xa(gi));
    if(j===0){
      const dec = axesDecimals[k];
      yAxis.push(ya(gi, axesMin[k], axesMax[k], axesTicks[k], v => Number(v).toFixed(dec), 'Axes/r', 27, null));
      row.ax.forEach(arr => {
        series.push({type:'scatter', xAxisIndex:gi, yAxisIndex:gi, data:pairs(arr), symbol:'circle', symbolSize:7,
          itemStyle:{color:'#008080', opacity:1}, clip:true, silent:true});
      });
    } else if(j<=3){
      const nm = thetaNames[j-1];
      yAxis.push(ya(gi, -2, 220, thetaTicks, v => String(Math.round(v)), '{t|\u0398}{s|'+nm+'}{t|(deg)}', 32, thetaRich));
      row.th[j-1].forEach((arr, si) => {
        const d = TH[si];
        series.push({type:'line', name:d.name, xAxisIndex:gi, yAxisIndex:gi, data:pairs(arr),
          symbol:d.symbol, symbolSize:d.size, symbolRotate:d.rot, showSymbol:true, showAllSymbol:true,
          lineStyle:{color:d.color, width:1.7}, itemStyle:{color:d.color, borderWidth:0},
          clip:true, silent:true, z:2+si});
      });
      legend.push({orient:'vertical', left:c.left+37, top:top+12, height:50,
        itemWidth:28, itemHeight:8.5, itemGap:0, padding:[5,4,3,4],
        backgroundColor:'rgba(255,255,255,0.8)', borderColor:'#cccccc', borderWidth:1, borderRadius:3,
        selectedMode:false,
        data:[{name:'Ltot', textStyle:{width:45}},{name:'i', textStyle:{width:45}},{name:'j', textStyle:{width:9}},{name:'k', textStyle:{width:9}}],
        formatter:legendFmt,
        textStyle:{padding:[0,0,0,4], lineHeight:21, color:TXT, fontFamily:FONT, rich:legendRich}});
    } else {
      yAxis.push(ya(gi, 0, 1.06, shapeTicks, v => Number(v).toFixed(1), 'shape', 29, null));
      row.sh.forEach((arr, si) => {
        const d = SH[si];
        series.push({type:'line', name:d.name, xAxisIndex:gi, yAxisIndex:gi, data:pairs(arr),
          symbol:d.symbol, symbolSize:d.size, showSymbol:true, showAllSymbol:true,
          lineStyle:{color:d.color, width:1.7}, itemStyle:{color:d.color, borderWidth:0},
          clip:true, silent:true, z:2+si});
      });
      legend.push({orient:'vertical', left:c.left+141, top:top+156, height:44,
        itemWidth:28, itemHeight:8.5, itemGap:0, padding:[3,4,2,4],
        backgroundColor:'rgba(255,255,255,0.8)', borderColor:'#cccccc', borderWidth:1, borderRadius:3,
        selectedMode:false,
        data:[{name:'s'},{name:'q'}],
        formatter:legendFmt,
        textStyle:{padding:[0,0,0,4], width:10, lineHeight:19, color:TXT, fontFamily:FONT, rich:legendRich}});
    }
  });
});

const chart = echarts.init(document.getElementById('c'), null, {renderer:'canvas', width:1407, height:1646});
chart.setOption({
  animation:false,
  backgroundColor:'#ffffff',
  textStyle:{fontFamily:FONT},
  grid, xAxis, yAxis, series, legend, graphic
});
</script></body></html>
